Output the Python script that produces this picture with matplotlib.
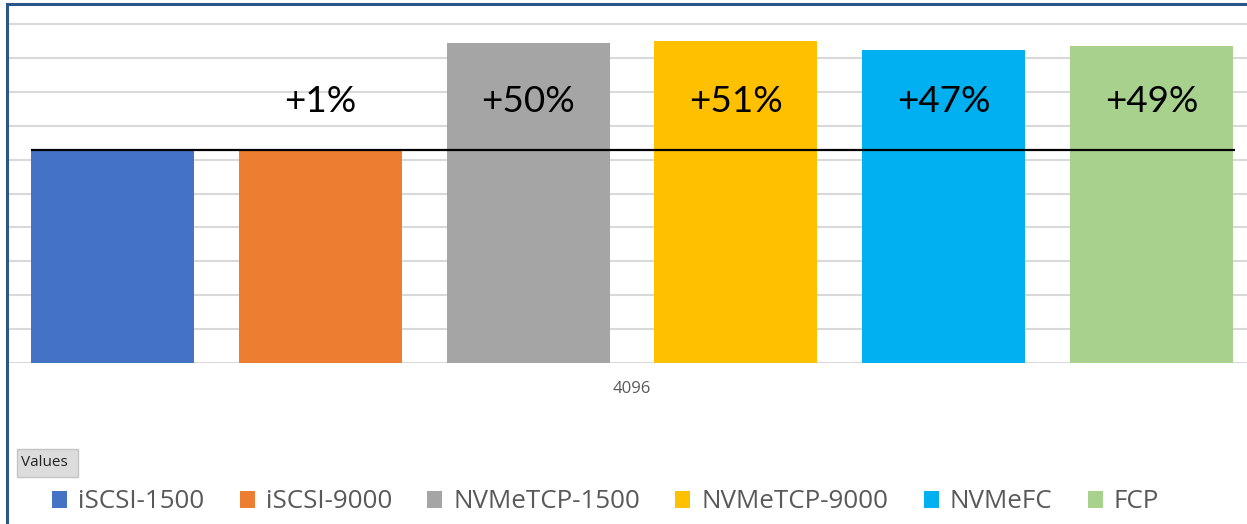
import matplotlib.pyplot as plt
from matplotlib.patches import Rectangle

# data (read in gridline units)
series = ['iSCSI-1500', 'iSCSI-9000', 'NVMeTCP-1500', 'NVMeTCP-9000', 'NVMeFC', 'FCP']
values = [6.28, 6.32, 9.43, 9.49, 9.22, 9.35]
gains = ['', '+1%', '+50%', '+51%', '+47%', '+49%']
category = '4096'
colors = ['#4472C4', '#ED7D31', '#A5A5A5', '#FFC000', '#00B0F0', '#A9D18E']

W, H = 1247, 524
fig = plt.figure(figsize=(W / 100, H / 100), dpi=100)
fig.patch.set_facecolor('white')

# axes: bottom at baseline (px 363), top at px 4, left px 8
ax = fig.add_axes([8 / W, (H - 363) / H, 1 - 8 / W, (363 - 4) / H])
ax.set_xlim(-0.503, 5.46)
ax.set_ylim(0, 10.59)

ax.set_yticks(range(0, 11))
ax.yaxis.grid(True, color='#D9D9D9', linewidth=1.5)
ax.set_axisbelow(True)
ax.tick_params(axis='y', left=False, labelleft=False)
for s in ax.spines.values():
    s.set_visible(False)

x = list(range(len(series)))
bw = 0.784
bars = []
for i in x:
    b = ax.bar(i, values[i], width=bw, color=colors[i], label=series[i], zorder=2)
    bars.append(b)

# baseline reference line at iSCSI-1500 level
ax.hlines(values[0], x[0] - bw / 2, x[-1] + bw / 2 + 0.01, color='black', linewidth=1.6, zorder=3)

for i in x:
    if gains[i]:
        ax.text(i, 7.72, gains[i], ha='center', va='center', fontsize=26.5,
                family='Lato', color='black', zorder=4)

ax.set_xticks([2.5])
ax.set_xticklabels([category], fontsize=12, color='#595959', family='Open Sans')
ax.tick_params(axis='x', length=0, pad=13)

# chart border (dark blue, cropped on right / bottom)
fig.add_artist(Rectangle((7 / W, -0.1), 1.2, (H - 4) / H + 0.1, transform=fig.transFigure,
                         fill=False, edgecolor='#2A5689', linewidth=2.2))

# "Values" field button
fig.add_artist(Rectangle((17 / W, (H - 477) / H), 61 / W, 28 / H, transform=fig.transFigure,
                         facecolor='#DCDCDC', edgecolor='#C4C4C4', linewidth=1))
fig.text(21 / W, (H - 463) / H, 'Values', fontsize=11, family='Open Sans', color='#222222',
         va='center', ha='left')

fig.legend(handles=[b[0] for b in bars], labels=series, loc='center left',
           bbox_to_anchor=(52 / W, (H - 502) / H), ncol=6, frameon=False,
           prop={'family': 'Open Sans', 'size': 18.7},
           handlelength=0.58, handleheight=0.6, handletextpad=0.42,
           columnspacing=1.36, borderpad=0, borderaxespad=0, labelcolor='#595959')

fig.savefig('out.png', dpi=100)
